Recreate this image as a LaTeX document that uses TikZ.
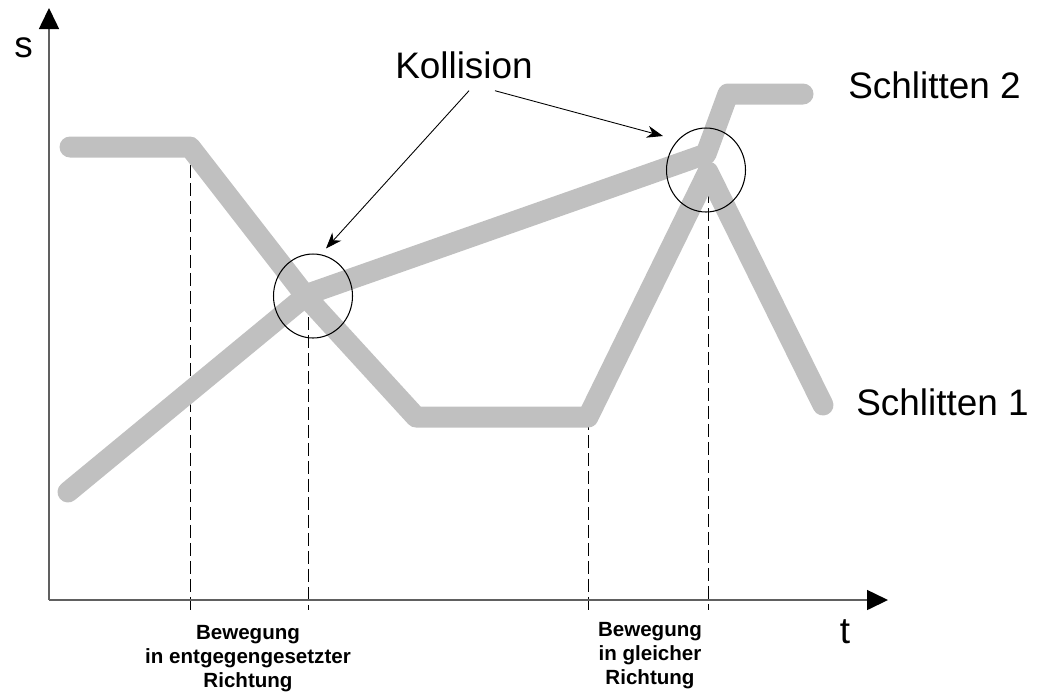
\documentclass[tikz,border=0pt]{standalone}
\usepackage{fontspec}
\setmainfont{Liberation Sans}
\usepackage{xcolor}
\usepackage{tikz}
\usetikzlibrary{
calc,
positioning,
arrows.meta,
shapes.geometric
}
\definecolor{band}{HTML}{C0C0C0}
\definecolor{achse}{HTML}{606060}

\tikzset{
schlitten/.style={
draw=band,
line width=0.42cm,
line cap=round,
line join=round
},
hilfslinie/.style={
line width=0.5pt,
dash pattern=on 0.26cm off 0.1cm
},
achsenpfeil/.style={
draw=achse,
line width=0.9pt,
-{Triangle[length=0.42cm,width=0.4cm,color=black]}
},
kollpfeil/.style={
line width=0.5pt,
-{Stealth[length=0.32cm,width=0.24cm,inset=0.1cm]}
},
kreis/.style={
draw,
ellipse,
line width=0.6pt,
inner sep=0pt,
minimum width=1.58cm,
minimum height=1.68cm
},
gross/.style={
font=\fontsize{21}{25}\selectfont,
inner sep=0pt
},
klein/.style={
font=\bfseries\fontsize{11.7}{13.6}\selectfont,
align=center,
inner sep=0pt
}
}

\begin{document}
\begin{tikzpicture}[x=0.02cm,y=-0.02cm]

\useasboundingbox (0,0) rectangle (1051,698);

\coordinate (o) at (49,600);
\coordinate (sachse) at (49,8);
\coordinate (tachse) at (888,600);
\coordinate (u) at (0,610);

\coordinate (a1) at (70,147);
\coordinate (a2) at (190,147);
\coordinate (a3) at (308,299);
\coordinate (a4) at (416,417);
\coordinate (a5) at (588,417);
\coordinate (a6) at (708,172);
\coordinate (a7) at (823,405);

\coordinate (b1) at (68,492);
\coordinate (b2) at (308,294);
\coordinate (b3) at (706,154);
\coordinate (b4) at (728,94);
\coordinate (b5) at (803,94);

\draw[hilfslinie] (a2) -- (a2 |- u);
\draw[hilfslinie] (a3) -- (a3 |- u);
\draw[hilfslinie] (a5) -- (a5 |- u);
\draw[hilfslinie] (a6) -- (a6 |- u);

\draw[schlitten] (b1) -- (b2) -- (b3) -- (b4) -- (b5);
\draw[schlitten] (a1) -- (a2) -- (a3) -- (a4) -- (a5) -- (a6) -- (a7);

\node[kreis] (k1) at (313,296) {};
\node[kreis] (k2) at (706,170) {};

\draw[achsenpfeil] (o) -- (sachse);
\draw[achsenpfeil] (o) -- (tachse);

\node[
gross,
anchor=base
]
(s) at (23.5,57)
{s};

\node[
gross,
anchor=base
]
(t) at (845,643)
{t};

\node[
gross,
anchor=base
]
(koll) at (464,78)
{Kollision};

\node[
gross,
anchor=base west
]
(s2) at (848,98)
{Schlitten 2};

\node[
gross,
anchor=base west
]
(s1) at (856,415)
{Schlitten 1};

\node[
klein,
anchor=north
]
(r1) at (248,625)
{Bewegung\\in entgegengesetzter\\Richtung};

\node[
klein,
anchor=north
]
(r2) at (650,622)
{Bewegung\\in gleicher\\Richtung};

\draw[kollpfeil] ([shift={(5,12)}]koll.south) -- ($(k1.north)+(13,-5)$);
\draw[kollpfeil] ([shift={(31,12)}]koll.south) -- ($(k2.west)+(-3,-34)$);

\end{tikzpicture}
\end{document}
